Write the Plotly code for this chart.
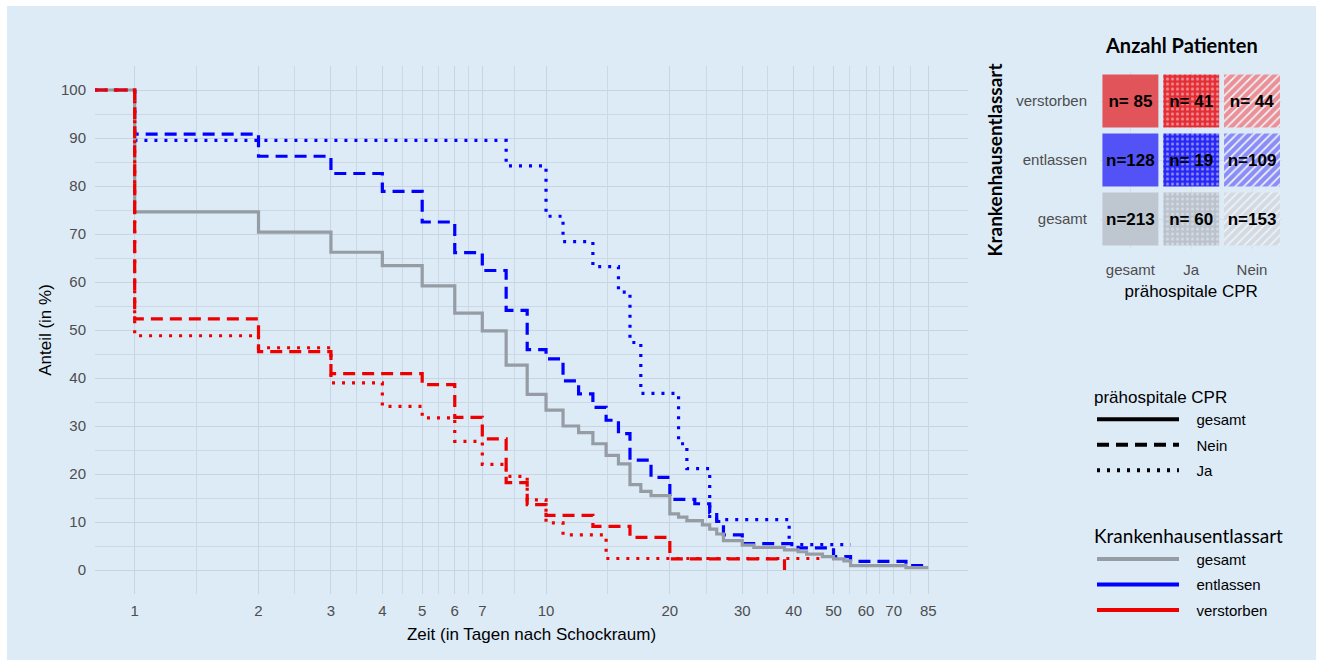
import numpy as np
import plotly.graph_objects as go

W, H = 1323, 666

# ---------------- data ----------------
x_ticks = [1, 2, 3, 4, 5, 6, 7, 10, 20, 30, 40, 50, 60, 70, 85]
x_ticklabels = [str(v) for v in x_ticks]
y_ticks = [0, 10, 20, 30, 40, 50, 60, 70, 80, 90, 100]

# gesamt / gesamt (grey solid)
t_gesamt = [0.8, 1, 2, 3, 4, 5, 6, 7, 8, 9, 10, 11, 12, 13, 14, 15, 16, 17, 18, 20,
            21, 22, 24, 25, 26, 27, 30, 32, 38, 41, 43, 47, 50, 53, 55, 75, 85]
s_gesamt = [100, 74.6, 70.4, 66.2, 63.4, 59.2, 53.5, 49.8, 42.7, 36.6, 33.3, 30.0, 28.6,
            26.3, 23.9, 22.1, 17.8, 16.4, 15.5, 11.7, 11.0, 10.3, 9.4, 8.5, 7.5, 6.1, 5.2,
            4.7, 4.2, 3.8, 3.3, 2.8, 2.3, 1.9, 0.9, 0.5, 0.5]

# entlassen / Nein (blue dashed)
t_ent_nein = [0.8, 1, 2, 3, 4, 5, 6, 7, 8, 9, 10, 11, 12, 13, 14, 15, 16, 18, 20, 23,
              25, 26, 27, 30, 41, 50, 55, 75, 85]
s_ent_nein = [100, 90.8, 86.2, 82.6, 78.9, 72.5, 66.1, 62.4, 54.1, 45.9, 44.0, 39.4, 36.7,
              33.9, 31.2, 28.4, 22.9, 19.3, 14.7, 13.8, 11.9, 10.1, 7.3, 5.5, 4.6, 2.8, 1.8,
              0.9, 0.9]

# entlassen / Ja (blue dotted)
t_ent_ja = [0.8, 1, 8, 10, 11, 13, 15, 16, 17, 21, 22, 25, 39, 55]
s_ent_ja = [100, 89.5, 84.2, 73.7, 68.4, 63.2, 57.9, 47.4, 36.8, 26.3, 21.1, 10.5, 5.3, 5.3]

# verstorben / Nein (red dashed)
t_ver_nein = [0.8, 1, 2, 3, 5, 6, 7, 8, 9, 10, 13, 16, 20, 38]
s_ver_nein = [100, 52.3, 45.5, 40.9, 38.6, 31.8, 27.3, 18.2, 13.6, 11.4, 9.1, 6.8, 2.3, 0]

# verstorben / Ja (red dotted)
t_ver_ja = [0.8, 1, 2, 3, 4, 5, 6, 7, 8, 9, 10, 11, 14, 47]
s_ver_ja = [100, 48.8, 46.3, 39.0, 34.1, 31.7, 26.8, 22.0, 19.5, 14.6, 9.8, 7.3, 2.4, 2.4]

# inset: Anzahl Patienten
cpr_cols = ["gesamt", "Ja", "Nein"]
outcome_rows = ["gesamt", "entlassen", "verstorben"]
counts = {  # column -> values per row (gesamt, entlassen, verstorben)
    "gesamt": [213, 128, 85],
    "Ja": [60, 19, 41],
    "Nein": [153, 109, 44],
}

# ---------------- styles ----------------
BG = "#DDEBF7"
GREY = "#959CA4"
BLUE = "#0000FF"
RED = "#EE0000"
GRID = "#C7D4E2"
GRID_MINOR = "#CCD8E5"
TICK_COL = "#4D4D4D"
FONT = "Liberation Sans, Arial, sans-serif"
CAL = "Lato, Carlito, sans-serif"
DASH = "12px,7px"
DOT = "3px,7px"

fig = go.Figure()

# background panel (with thin white border)
fig.add_shape(type="rect", xref="paper", yref="paper",
              x0=7 / W, x1=1316 / W, y0=1 - 660 / H, y1=1 - 6 / H,
              fillcolor=BG, line_width=0, layer="below")

curves = [
    (t_ent_ja, s_ent_ja, BLUE, DOT),
    (t_ent_nein, s_ent_nein, BLUE, DASH),
    (t_gesamt, s_gesamt, GREY, "solid"),
    (t_ver_ja, s_ver_ja, RED, DOT),
    (t_ver_nein, s_ver_nein, RED, DASH),
]
for t, s, col, dash in curves:
    fig.add_trace(go.Scatter(x=t, y=s, mode="lines", line=dict(color=col, width=3.2, dash=dash, shape="hv"),
                             showlegend=False, hoverinfo="skip", xaxis="x", yaxis="y"))

# legend entries
PAD = "   "
for name, dash in [("gesamt", "solid"), ("Nein", DASH), ("Ja", DOT)]:
    fig.add_trace(go.Scatter(x=[None], y=[None], mode="lines", name=PAD + name, legendgroup="cpr_" + name,
                             line=dict(color="black", width=4, dash=dash), legend="legend"))
for name, col in [("gesamt", GREY), ("entlassen", BLUE), ("verstorben", RED)]:
    fig.add_trace(go.Scatter(x=[None], y=[None], mode="lines", name=PAD + name, legendgroup="out_" + name,
                             line=dict(color=col, width=4), legend="legend2"))

# inset tiles
row_solid = {"gesamt": "rgb(190,198,208)", "entlassen": "rgb(82,82,246)", "verstorben": "rgb(224,84,90)"}
row_line = {"gesamt": "rgb(186,194,204)", "entlassen": "rgb(40,40,246)", "verstorben": "rgb(230,45,52)"}
LIGHT = "rgb(238,242,248)"
for c in cpr_cols:
    for i, r in enumerate(outcome_rows):
        v = counts[c][i]
        if c == "gesamt":
            marker = dict(color=row_solid[r], line_width=0)
        elif c == "Ja":
            marker = dict(color=row_line[r], line_width=0,
                          pattern=dict(shape=".", fgcolor=LIGHT, size=5, solidity=0.3, fillmode="overlay"))
        else:
            marker = dict(color=LIGHT, line_width=0,
                          pattern=dict(shape="/", fgcolor=row_line[r], size=6, solidity=0.7, fillmode="overlay"))
        fig.add_trace(go.Bar(
            x=[c], y=[0.9], base=[i - 0.45], width=0.92, marker=marker,
            text=[f"n={v:3d}"], textposition="inside", insidetextanchor="middle",
            textangle=0, constraintext="none",
            textfont=dict(family=FONT, size=17, color="black", weight="bold"),
            xaxis="x2", yaxis="y2", showlegend=False, hoverinfo="skip"))

# ---------------- axes ----------------
lx0, lx1 = np.log10(x_ticks[0]), np.log10(x_ticks[-1])
ex = 0.05 * (lx1 - lx0)
x_minor = [float(np.sqrt(a * b)) for a, b in zip(x_ticks[:-1], x_ticks[1:])]
y_minor = list(range(-5, 110, 10))

fig.update_layout(
    width=W, height=H, margin=dict(l=0, r=0, t=0, b=0),
    paper_bgcolor="white", plot_bgcolor="rgba(0,0,0,0)",
    barmode="overlay", font=dict(family=FONT),
    xaxis=dict(type="log", range=[lx0 - ex, lx1 + ex], domain=[95 / W, 968 / W],
               tickmode="array", tickvals=x_ticks, ticktext=x_ticklabels,
               showgrid=True, gridcolor=GRID, gridwidth=1.3, zeroline=False, showline=False,
               ticks="", ticklabelstandoff=6, tickfont=dict(size=15, color=TICK_COL),
               minor=dict(tickmode="array", tickvals=x_minor, showgrid=True, gridcolor=GRID_MINOR, gridwidth=1),
               title=dict(text="Zeit (in Tagen nach Schockraum)", font=dict(size=17, color="black"), standoff=10),
               anchor="y"),
    yaxis=dict(range=[-5, 105], domain=[1 - 594 / H, 1 - 66 / H],
               tickmode="array", tickvals=y_ticks,
               showgrid=True, gridcolor=GRID, gridwidth=1.3, zeroline=False, showline=False,
               ticks="", ticklabelstandoff=8, tickfont=dict(size=15, color=TICK_COL),
               minor=dict(tickmode="array", tickvals=y_minor, showgrid=True, gridcolor=GRID_MINOR, gridwidth=1),
               title=dict(text="Anteil (in %)", font=dict(size=17, color="black"), standoff=5),
               anchor="x"),
    xaxis2=dict(domain=[1100 / W, 1282.4 / W], anchor="y2", type="category",
                categoryorder="array", categoryarray=cpr_cols, range=[-0.5, 2.5],
                showgrid=True, gridcolor="#D3DFEB", gridwidth=1, zeroline=False, ticks="",
                ticklabelstandoff=10, tickfont=dict(size=15, color=TICK_COL),
                title=dict(text="prähospitale CPR", font=dict(size=17, color="black"), standoff=8)),
    yaxis2=dict(domain=[1 - 248.5 / H, 1 - 71.5 / H], anchor="x2", range=[-0.5, 2.5],
                tickmode="array", tickvals=list(range(len(outcome_rows))), ticktext=outcome_rows,
                showgrid=True, gridcolor="#D3DFEB", gridwidth=1, zeroline=False, ticks="",
                ticklabelstandoff=12, tickfont=dict(size=15, color=TICK_COL),
                title=dict(text="<b>Krankenhausentlassart</b>", font=dict(family=CAL, size=19, color="black"),
                           standoff=8)),
    legend=dict(x=1092 / W, y=1 - 381 / H, xanchor="left", yanchor="top", bgcolor="rgba(0,0,0,0)",
                title=dict(text="prähospitale CPR", font=dict(size=17, color="black")),
                font=dict(size=15, color="black"), itemwidth=82, tracegroupgap=3),
    legend2=dict(x=1092 / W, y=1 - 518 / H, xanchor="left", yanchor="top", bgcolor="rgba(0,0,0,0)",
                 title=dict(text="Krankenhausentlassart", font=dict(family=CAL, size=19, color="black")),
                 font=dict(size=15, color="black"), itemwidth=82, tracegroupgap=3),
    annotations=[dict(text="<b>Anzahl Patienten</b>", x=1181 / W, y=1 - 45 / H, xref="paper", yref="paper",
                      showarrow=False, font=dict(family=CAL, size=20, color="black"),
                      xanchor="center", yanchor="middle")],
)

fig.write_html("out.html", config={"displayModeBar": False},
               post_script="document.body.style.margin='0';")
